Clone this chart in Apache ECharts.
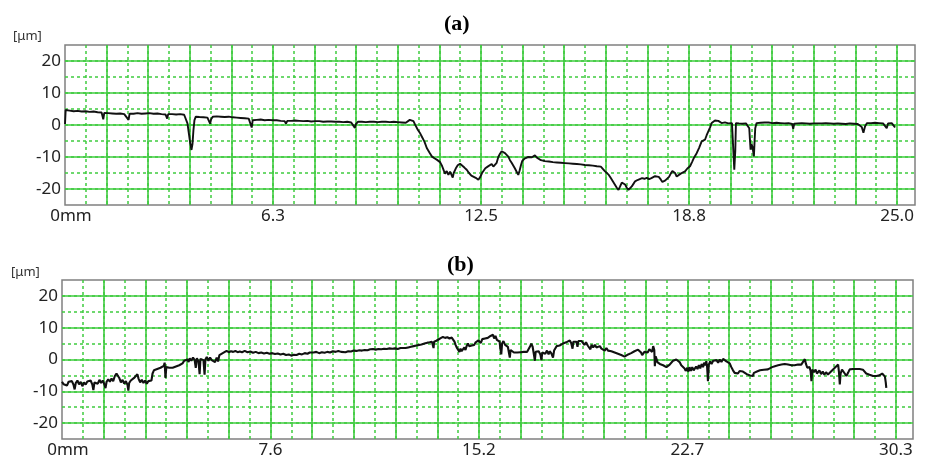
<!DOCTYPE html>
<html>
<head>
<meta charset="utf-8">
<script src="https://cdn.jsdelivr.net/npm/echarts@6/dist/echarts.min.js"></script>
<style>
  html, body { margin: 0; padding: 0; background: #fff; }
  #chart { width: 927px; height: 459px; }
</style>
</head>
<body>
<div id="chart"></div>
<script>
// profile (a): [position mm, height µm]
const profileA = [
  [0,0.3],[0.02,4.7],[0.08,4.1],[0.14,4.5],[0.2,3.9],[0.26,4.3],[0.32,4.0],[0.38,4.4],[0.44,3.8],[0.5,4.2],
  [0.56,3.9],[0.62,4.3],[0.68,3.9],[0.74,4.1],[0.8,3.7],[0.86,4.2],[0.92,3.9],[0.98,4.0],[1.04,3.6],[1.1,3.9],
  [1.15,1.8],[1.18,3.8],[1.24,4.1],[1.3,3.7],[1.36,4.0],[1.42,3.6],[1.48,3.9],[1.54,3.5],[1.6,3.9],[1.66,3.6],
  [1.72,3.8],[1.78,3.4],[1.84,3.7],[1.91,1.6],[1.94,3.5],[2.0,3.8],[2.06,3.5],[2.12,4.0],[2.18,3.7],[2.24,3.9],
  [2.3,3.5],[2.36,3.9],[2.42,3.6],[2.48,4.0],[2.54,3.7],[2.6,3.9],[2.66,3.5],[2.72,3.8],[2.78,3.6],[2.84,3.9],
  [2.9,3.4],[2.96,3.7],[3.02,3.3],[3.07,2.0],[3.1,3.4],[3.16,3.7],[3.22,3.4],[3.28,3.6],[3.34,3.3],[3.4,3.6],
  [3.46,3.4],[3.52,3.5],[3.58,3.2],[3.63,2.6],[3.68,0.5],[3.72,-2.5],[3.76,-5.5],[3.8,-7.8],[3.83,-6.0],[3.86,-1.5],
  [3.89,1.5],[3.93,2.6],[3.98,2.9],[4.04,2.5],[4.1,2.8],[4.16,2.4],[4.22,2.7],[4.28,2.3],[4.33,2.5],[4.36,0.4],
  [4.39,1.8],[4.44,2.6],[4.5,2.3],[4.56,2.7],[4.62,2.4],[4.68,2.6],[4.74,2.2],[4.8,2.5],[4.86,2.3],[4.92,2.6],
  [4.98,2.1],[5.04,2.4],[5.1,2.0],[5.16,2.3],[5.22,1.9],[5.28,2.2],[5.34,1.8],[5.4,2.1],[5.46,1.7],[5.52,2.0],
  [5.58,1.6],[5.61,-0.8],[5.64,1.5],[5.7,1.9],[5.76,1.6],[5.82,2.0],[5.88,1.7],[5.94,1.9],[6.0,1.5],[6.06,1.8],
  [6.12,1.6],[6.18,1.9],[6.24,1.5],[6.3,1.8],[6.36,1.5],[6.42,1.7],[6.48,1.3],[6.54,1.6],[6.6,1.2],[6.64,0.4],
  [6.68,1.3],[6.74,1.6],[6.8,1.3],[6.86,1.7],[6.92,1.4],[6.98,1.6],[7.04,1.3],[7.1,1.5],[7.16,1.2],[7.22,1.6],
  [7.28,1.3],[7.34,1.5],[7.4,1.1],[7.46,1.4],[7.52,1.2],[7.58,1.5],[7.64,1.2],[7.7,1.4],[7.76,1.0],[7.82,1.3],
  [7.88,1.1],[7.94,1.4],[8.0,1.1],[8.06,1.3],[8.12,1.0],[8.18,1.3],[8.24,1.0],[8.3,1.2],[8.36,0.9],[8.42,1.2],
  [8.48,1.0],[8.54,1.2],[8.6,0.8],[8.66,0.5],[8.71,-0.9],[8.74,0.3],[8.8,1.0],[8.86,1.3],[8.92,1.0],[8.98,1.2],
  [9.04,0.9],[9.1,1.2],[9.16,1.0],[9.22,1.3],[9.28,1.0],[9.34,1.2],[9.4,0.9],[9.46,1.2],[9.52,1.0],[9.58,1.3],
  [9.64,1.0],[9.7,1.2],[9.76,0.9],[9.82,1.2],[9.88,1.0],[9.94,1.3],[10.0,0.9],[10.06,1.1],[10.12,0.8],[10.18,1.2],
  [10.24,0.7],[10.3,1.3],[10.36,1.6],[10.42,2.0],[10.47,1.2],[10.52,0.1],[10.6,-1.5],[10.66,-2.4],[10.72,-3.6],[10.8,-5.2],
  [10.87,-7.2],[10.95,-8.6],[11.02,-9.8],[11.1,-10.4],[11.18,-10.9],[11.27,-11.6],[11.33,-12.8],[11.38,-14.2],[11.42,-15.2],[11.47,-14.4],
  [11.52,-15.6],[11.57,-14.6],[11.62,-14.8],[11.65,-16.4],[11.68,-15.0],[11.74,-13.6],[11.8,-12.6],[11.87,-12.1],[11.93,-12.6],[12.0,-13.3],
  [12.07,-14.0],[12.14,-15.0],[12.21,-15.8],[12.27,-16.3],[12.34,-16.5],[12.42,-17.1],[12.48,-16.2],[12.53,-15.0],[12.57,-14.4],[12.63,-13.5],
  [12.7,-13.0],[12.76,-12.6],[12.82,-12.2],[12.87,-13.0],[12.92,-13.4],[12.97,-11.8],[13.02,-10.0],[13.07,-9.0],[13.12,-8.2],[13.17,-8.6],
  [13.22,-8.8],[13.27,-9.4],[13.32,-9.9],[13.37,-11.0],[13.42,-11.8],[13.47,-12.4],[13.52,-13.6],[13.57,-14.6],[13.62,-15.6],[13.66,-14.2],
  [13.7,-12.6],[13.74,-11.2],[13.77,-10.8],[13.82,-10.4],[13.87,-10.4],[13.92,-10.0],[13.98,-9.6],[14.03,-10.1],[14.08,-9.8],[14.12,-9.5],
  [14.18,-10.2],[14.24,-10.6],[14.3,-11.0],[14.36,-10.8],[14.42,-11.3],[14.48,-11.0],[14.54,-11.4],[14.6,-11.2],[14.66,-11.6],[14.72,-11.3],
  [14.78,-11.7],[14.84,-11.4],[14.9,-11.8],[14.96,-11.5],[15.02,-11.9],[15.08,-11.6],[15.14,-12.0],[15.2,-11.7],[15.26,-12.1],[15.32,-11.8],
  [15.38,-12.2],[15.44,-11.9],[15.5,-12.3],[15.56,-12.0],[15.62,-12.5],[15.68,-12.2],[15.74,-12.6],[15.8,-12.3],[15.86,-12.7],[15.92,-12.5],
  [15.98,-12.9],[16.04,-12.6],[16.1,-13.0],[16.16,-13.6],[16.22,-14.4],[16.28,-15.0],[16.34,-15.6],[16.4,-16.6],[16.46,-17.6],[16.52,-18.6],
  [16.58,-19.6],[16.63,-20.3],[16.68,-19.2],[16.73,-18.0],[16.78,-17.6],[16.83,-18.6],[16.88,-19.6],[16.93,-20.3],[16.98,-20.5],[17.03,-19.2],
  [17.08,-18.4],[17.13,-17.6],[17.2,-17.2],[17.27,-16.9],[17.34,-16.6],[17.41,-16.8],[17.48,-16.5],[17.55,-16.9],[17.62,-16.6],[17.68,-16.9],
  [17.73,-16.0],[17.78,-15.5],[17.84,-16.2],[17.9,-17.0],[17.95,-17.8],[17.98,-18.1],[18.03,-17.4],[18.09,-16.8],[18.15,-16.2],[18.2,-15.2],
  [18.25,-14.4],[18.28,-14.0],[18.33,-15.0],[18.38,-16.1],[18.44,-15.6],[18.5,-15.2],[18.56,-14.8],[18.63,-14.5],[18.7,-13.6],[18.78,-12.9],
  [18.84,-11.6],[18.9,-10.2],[18.98,-8.8],[19.05,-7.2],[19.13,-5.1],[19.18,-4.8],[19.23,-4.6],[19.28,-3.2],[19.33,-2.0],[19.38,-0.8],
  [19.43,0.6],[19.48,1.2],[19.53,1.4],[19.58,1.0],[19.63,1.3],[19.68,1.1],[19.73,0.6],[19.78,1.2],[19.83,0.8],[19.88,1.1],
  [19.93,0.5],[19.98,0.9],[20.04,0.6],[20.09,0.9],[20.11,-14.0],[20.14,-8.0],[20.16,0.6],[20.2,1.0],[20.25,0.5],[20.3,0.9],
  [20.35,0.4],[20.4,0.8],[20.46,0.5],[20.52,0.9],[20.56,-1.0],[20.58,-4.5],[20.6,-7.7],[20.63,-6.0],[20.66,-7.0],[20.68,-8.5],
  [20.7,-9.8],[20.72,-5.0],[20.74,-1.0],[20.78,0.6],[20.84,1.0],[20.9,0.7],[20.96,1.1],[21.02,0.8],[21.08,1.2],[21.14,0.8],
  [21.2,1.0],[21.26,0.6],[21.32,1.0],[21.38,0.7],[21.44,1.1],[21.5,0.6],[21.56,0.9],[21.62,0.5],[21.68,0.9],[21.74,0.6],
  [21.8,0.9],[21.85,0.3],[21.88,-1.2],[21.91,0.4],[21.96,0.8],[22.02,0.5],[22.08,0.9],[22.14,0.6],[22.2,0.9],[22.26,0.5],
  [22.32,0.8],[22.38,0.4],[22.44,0.8],[22.5,0.5],[22.56,0.7],[22.62,0.5],[22.68,0.7],[22.74,0.5],[22.8,0.7],[22.86,0.6],
  [22.92,0.7],[22.98,0.5],[23.04,0.7],[23.1,0.4],[23.16,0.8],[23.22,0.5],[23.28,0.9],[23.34,0.4],[23.4,0.8],[23.46,0.3],
  [23.52,0.8],[23.58,0.5],[23.64,0.9],[23.7,0.4],[23.76,0.8],[23.82,0.3],[23.88,0.6],[23.94,-0.6],[23.99,-2.4],[24.04,-0.4],
  [24.1,0.6],[24.16,1.0],[24.22,0.6],[24.28,1.0],[24.34,0.7],[24.4,1.0],[24.46,0.6],[24.52,0.9],[24.58,0.5],[24.64,0.8],
  [24.69,-1.0],[24.73,0.5],[24.78,0.2],[24.84,0.6],[24.9,-0.2],[24.94,-0.8]
];

// profile (b): [position mm, height µm]
const profileB = [
  [0,-7.0],[0.06,-7.8],[0.12,-7.2],[0.18,-8.2],[0.24,-7.0],[0.3,-7.6],[0.36,-6.8],[0.42,-8.0],[0.46,-9.4],[0.5,-7.4],
  [0.56,-6.6],[0.62,-7.8],[0.68,-7.0],[0.74,-8.4],[0.8,-7.2],[0.86,-7.9],[0.92,-6.9],[0.98,-7.5],[1.04,-6.6],[1.1,-7.8],
  [1.14,-9.6],[1.18,-7.2],[1.24,-6.8],[1.3,-7.6],[1.36,-6.4],[1.42,-7.4],[1.48,-6.6],[1.54,-7.8],[1.58,-9.0],[1.62,-7.0],
  [1.68,-6.2],[1.74,-7.0],[1.8,-6.0],[1.86,-6.8],[1.92,-5.2],[1.98,-4.4],[2.03,-4.0],[2.08,-5.8],[2.14,-7.2],[2.2,-6.4],
  [2.26,-7.6],[2.32,-6.8],[2.38,-8.0],[2.41,-9.8],[2.44,-7.4],[2.5,-6.6],[2.56,-7.0],[2.62,-5.8],[2.68,-5.2],[2.74,-4.6],
  [2.78,-6.0],[2.84,-7.2],[2.9,-6.4],[2.96,-7.4],[3.02,-6.6],[3.08,-7.6],[3.14,-6.8],[3.2,-7.2],[3.25,-6.6],[3.29,-4.4],
  [3.34,-3.4],[3.4,-3.8],[3.46,-3.0],[3.52,-3.6],[3.58,-2.6],[3.64,-3.2],[3.7,-2.0],[3.73,-1.0],[3.76,-5.8],[3.79,-2.4],
  [3.84,-3.0],[3.9,-2.6],[3.96,-3.2],[4.02,-2.6],[4.08,-3.0],[4.14,-2.2],[4.2,-2.8],[4.26,-1.8],[4.32,-2.4],[4.38,-1.2],
  [4.44,-0.4],[4.5,-1.0],[4.56,0.0],[4.6,-0.8],[4.64,0.4],[4.7,-0.4],[4.76,0.6],[4.82,-0.2],[4.86,-2.6],[4.9,0.4],
  [4.96,-0.6],[5.0,-4.6],[5.03,0.2],[5.08,0.8],[5.14,-0.2],[5.18,-4.8],[5.21,0.0],[5.26,0.8],[5.32,-0.4],[5.38,0.6],
  [5.44,-0.2],[5.5,0.4],[5.56,-0.8],[5.62,0.6],[5.67,-0.6],[5.72,1.4],[5.78,1.0],[5.84,2.0],[5.91,2.4],[5.98,2.7],
  [6.06,2.3],[6.14,2.6],[6.22,2.4],[6.3,2.7],[6.38,2.3],[6.46,2.5],[6.54,2.3],[6.64,2.7],[6.74,2.3],[6.84,2.5],
  [6.94,2.1],[7.04,2.4],[7.14,2.0],[7.24,2.2],[7.34,1.9],[7.44,2.1],[7.54,1.8],[7.64,2.0],[7.74,1.7],[7.84,1.9],
  [7.94,1.6],[8.04,1.8],[8.14,1.4],[8.24,1.6],[8.33,1.2],[8.42,1.5],[8.52,1.4],[8.62,1.8],[8.72,1.6],[8.82,2.0],
  [8.92,1.8],[9.0,2.2],[9.06,2.5],[9.14,2.2],[9.24,2.4],[9.34,2.0],[9.44,2.3],[9.54,2.1],[9.64,2.4],[9.74,2.2],
  [9.84,2.6],[9.94,2.4],[10.04,2.7],[10.14,2.4],[10.21,2.5],[10.3,2.3],[10.4,2.6],[10.5,2.5],[10.6,2.8],[10.7,2.7],
  [10.8,2.9],[10.9,2.8],[11.0,3.0],[11.1,2.9],[11.2,3.2],[11.3,3.3],[11.4,3.1],[11.5,3.3],[11.6,3.2],[11.7,3.4],
  [11.8,3.3],[11.9,3.5],[12.0,3.4],[12.1,3.5],[12.2,3.3],[12.3,3.6],[12.39,3.6],[12.44,3.0],[12.48,3.6],[12.58,3.8],
  [12.68,4.0],[12.78,4.2],[12.88,4.4],[12.98,4.6],[13.06,4.7],[13.12,5.0],[13.2,5.1],[13.28,5.3],[13.36,5.4],[13.44,5.6],
  [13.48,5.7],[13.5,3.6],[13.52,5.6],[13.6,5.9],[13.68,6.3],[13.76,6.7],[13.84,7.1],[13.92,6.8],[14.0,7.0],[14.08,6.6],
  [14.16,6.9],[14.21,6.5],[14.26,5.6],[14.3,4.6],[14.34,3.8],[14.39,3.1],[14.44,2.4],[14.48,3.4],[14.52,2.6],[14.57,2.8],
  [14.62,3.8],[14.66,3.0],[14.7,4.2],[14.75,5.0],[14.8,4.2],[14.85,3.6],[14.89,4.4],[14.93,3.8],[14.98,4.6],[15.03,5.4],
  [15.08,4.8],[15.13,6.0],[15.18,6.2],[15.22,5.2],[15.27,6.4],[15.32,5.8],[15.37,6.6],[15.42,6.0],[15.47,6.8],[15.52,6.2],
  [15.57,7.4],[15.62,6.8],[15.66,7.8],[15.7,6.6],[15.75,7.4],[15.8,6.2],[15.84,6.6],[15.9,5.6],[15.93,3.2],[15.96,1.6],
  [15.99,5.0],[16.04,5.8],[16.1,4.6],[16.15,5.2],[16.2,4.0],[16.24,2.0],[16.27,0.6],[16.3,3.0],[16.36,2.8],[16.42,2.2],
  [16.48,2.8],[16.54,2.2],[16.6,2.7],[16.66,2.3],[16.72,2.8],[16.78,2.4],[16.84,2.6],[16.9,2.4],[16.96,3.4],[17.01,4.2],
  [17.05,5.0],[17.1,4.0],[17.14,3.4],[17.16,0.8],[17.18,-0.4],[17.21,2.4],[17.26,1.8],[17.32,2.6],[17.38,1.6],[17.42,-0.2],
  [17.45,2.2],[17.5,2.6],[17.56,1.8],[17.62,2.8],[17.68,1.6],[17.72,2.6],[17.78,1.9],[17.84,0.6],[17.88,2.8],[17.93,3.4],
  [17.97,4.2],[18.02,3.6],[18.08,4.4],[18.14,4.0],[18.2,5.0],[18.26,4.4],[18.32,5.4],[18.38,4.8],[18.45,6.0],[18.5,5.2],
  [18.55,3.4],[18.58,5.6],[18.63,6.2],[18.69,5.6],[18.73,4.0],[18.76,5.8],[18.82,5.2],[18.88,5.8],[18.93,5.4],[18.98,4.6],
  [19.04,5.4],[19.1,4.4],[19.17,4.8],[19.2,3.2],[19.24,4.6],[19.3,3.8],[19.36,4.6],[19.42,3.8],[19.48,4.4],[19.54,4.2],
  [19.6,3.4],[19.66,4.0],[19.72,2.8],[19.78,3.6],[19.84,2.8],[19.9,3.4],[19.96,2.6],[20.02,3.0],[20.08,2.2],[20.14,2.6],
  [20.2,1.8],[20.26,2.2],[20.32,1.4],[20.38,1.6],[20.44,0.9],[20.5,0.8],[20.57,1.6],[20.62,1.2],[20.68,2.0],[20.74,1.8],
  [20.8,2.6],[20.86,2.4],[20.93,3.1],[20.98,2.6],[21.04,2.2],[21.08,1.4],[21.11,2.0],[21.16,2.4],[21.22,2.8],[21.28,2.2],
  [21.34,3.2],[21.38,2.6],[21.41,3.6],[21.44,2.4],[21.48,4.2],[21.52,3.0],[21.54,-2.1],[21.57,1.0],[21.6,0.2],[21.63,-0.8],
  [21.66,-0.6],[21.72,-1.4],[21.78,-1.0],[21.84,-1.8],[21.9,-1.6],[21.96,-2.4],[22.02,-2.6],[22.08,-1.6],[22.14,-1.2],[22.2,-0.4],
  [22.26,-0.6],[22.32,0.0],[22.38,0.1],[22.44,-0.8],[22.5,-1.8],[22.57,-1.4],[22.62,-2.8],[22.66,-3.6],[22.69,-4.2],[22.72,-2.6],
  [22.76,-3.8],[22.8,-2.4],[22.85,-3.6],[22.9,-2.4],[22.95,-3.4],[22.99,-3.1],[23.04,-2.2],[23.09,-3.0],[23.14,-1.8],[23.19,-2.8],
  [23.24,-1.4],[23.29,-2.4],[23.34,-1.0],[23.38,-1.8],[23.41,-0.5],[23.44,-2.4],[23.47,-6.8],[23.5,-1.6],[23.55,-0.6],[23.6,-1.4],
  [23.66,-0.4],[23.72,-1.0],[23.78,-0.2],[23.84,-1.0],[23.9,0.0],[23.96,-0.8],[24.02,0.2],[24.08,0.1],[24.14,-0.6],[24.2,-0.5],
  [24.26,-1.2],[24.32,-2.4],[24.38,-3.4],[24.44,-4.2],[24.5,-3.8],[24.56,-4.4],[24.62,-3.6],[24.68,-4.2],[24.74,-3.8],[24.81,-4.0],
  [24.88,-4.6],[24.94,-4.2],[25.0,-5.0],[25.05,-4.8],[25.1,-5.2],[25.14,-4.2],[25.2,-4.6],[25.25,-3.8],[25.29,-3.6],[25.36,-3.4],
  [25.43,-3.8],[25.5,-3.2],[25.57,-3.6],[25.65,-3.1],[25.72,-2.8],[25.8,-2.4],[25.86,-2.8],[25.9,-2.1],[25.96,-2.4],[26.02,-1.8],
  [26.08,-2.2],[26.14,-1.6],[26.2,-2.0],[26.26,-1.4],[26.32,-1.8],[26.38,-1.6],[26.44,-1.2],[26.5,-1.8],[26.56,-1.2],[26.62,-1.8],
  [26.68,-1.4],[26.74,-1.6],[26.8,-1.2],[26.86,-1.6],[26.92,-1.0],[26.99,0.1],[27.03,-1.4],[27.08,-2.6],[27.11,-3.1],[27.16,-2.4],
  [27.2,-3.6],[27.23,-6.8],[27.26,-3.2],[27.32,-4.0],[27.38,-3.2],[27.43,-4.4],[27.47,-4.2],[27.52,-3.4],[27.58,-4.6],[27.64,-3.8],
  [27.7,-4.8],[27.76,-4.0],[27.83,-4.7],[27.9,-4.2],[27.96,-3.6],[28.02,-3.0],[28.08,-2.6],[28.14,-2.0],[28.2,-1.6],[28.23,-4.0],
  [28.26,-7.8],[28.29,-4.4],[28.34,-3.2],[28.38,-3.1],[28.44,-4.4],[28.5,-5.2],[28.56,-4.2],[28.62,-3.1],[28.68,-3.4],[28.74,-3.0],
  [28.8,-3.4],[28.86,-3.0],[28.92,-3.6],[28.98,-3.0],[29.04,-2.6],[29.1,-3.2],[29.16,-3.8],[29.22,-4.4],[29.28,-4.6],[29.34,-4.8],
  [29.41,-5.0],[29.47,-5.2],[29.53,-5.4],[29.59,-5.2],[29.65,-5.7],[29.7,-5.0],[29.75,-5.4],[29.8,-4.4],[29.83,-4.2],[29.87,-4.8],
  [29.9,-5.4],[29.93,-7.2],[29.95,-8.9]
];

const xTickLabelsA = ['0mm', '6.3', '12.5', '18.8', '25.0'];
const xTickLabelsB = ['0mm', '7.6', '15.2', '22.7', '30.3'];
const yTickValues = [-20, -10, 0, 10, 20];
const panelTitles = ['(a)', '(b)'];
const yUnit = '[μm]';

const GREEN = '#3fcb3f';
const NONE = 'rgba(0,0,0,0)';
const FONT = 'Noto Sans';

// grid steps: 20 major divisions up to the last label
const stepA = 1.25, stepB = 1.515;

function xLabelFormatter(step, labels) {
  return function (v) {
    const k = v / step;
    const r = Math.round(k);
    if (Math.abs(k - r) > 1e-6 || r % 5 !== 0) return '';
    const t = labels[r / 5];
    return r === 0 ? '{first|' + t + '}' : t;
  };
}

function xAxes(gridIndex, max, step, labels) {
  const common = {
    type: 'value', gridIndex: gridIndex, position: 'bottom', min: 0, max: max,
    axisLine: { show: false }, axisTick: { show: false }
  };
  return [
    Object.assign({}, common, {
      interval: step / 2,
      axisLabel: { show: false },
      splitLine: { show: true, showMinLine: false, showMaxLine: false,
        lineStyle: { color: GREEN, width: 1.5, type: [3, 3] } }
    }),
    Object.assign({}, common, {
      interval: step,
      axisLabel: {
        margin: 3, color: '#222', fontFamily: FONT, fontSize: 17,
        formatter: xLabelFormatter(step, labels),
        rich: { first: { padding: [0, 0, 0, 12], color: '#222', fontFamily: FONT, fontSize: 17 } }
      },
      splitLine: { show: true, showMinLine: false, showMaxLine: false,
        lineStyle: { color: GREEN, width: 1.6 } }
    })
  ];
}

// ticks run from min (-25) every 5: dashed axis draws them all,
// the solid axis shows only every other one (-20, -10, 0, 10, 20)
function yAxes(gridIndex) {
  const common = {
    type: 'value', gridIndex: gridIndex, position: 'left', min: -25, max: 25, interval: 5,
    axisLine: { show: false }, axisTick: { show: false }
  };
  return [
    Object.assign({}, common, {
      axisLabel: { show: false },
      splitLine: { show: true, showMinLine: false, showMaxLine: false,
        lineStyle: { color: GREEN, width: 1.5, type: [3, 3] } }
    }),
    Object.assign({}, common, {
      axisLabel: {
        margin: 4, color: '#222', fontFamily: FONT, fontSize: 17,
        formatter: function (v) { return yTickValues.indexOf(v) >= 0 ? String(v) : ''; }
      },
      splitLine: { show: true,
        lineStyle: { color: [NONE, GREEN], width: 1.6 } }
    })
  ];
}

const chart = echarts.init(document.getElementById('chart'), null, { renderer: 'canvas' });

chart.setOption({
  animation: false,
  backgroundColor: '#fff',
  title: [
    { text: panelTitles[0], left: 439, top: 8,
      textStyle: { fontFamily: 'Liberation Serif', fontWeight: 'bold', fontSize: 22, color: '#000' } },
    { text: panelTitles[1], left: 442, top: 249,
      textStyle: { fontFamily: 'Liberation Serif', fontWeight: 'bold', fontSize: 22, color: '#000' } }
  ],
  graphic: [
    { type: 'text', left: 13, top: 30, style: { text: yUnit, font: '13px "Noto Sans"', fill: '#333' } },
    { type: 'text', left: 11, top: 266, style: { text: yUnit, font: '13px "Noto Sans"', fill: '#333' } }
  ],
  grid: [
    { left: 65, top: 45, width: 850, height: 160, show: true,
      borderColor: '#808080', borderWidth: 1.5, backgroundColor: 'transparent' },
    { left: 62, top: 280, width: 851, height: 160, show: true,
      borderColor: '#808080', borderWidth: 1.5, backgroundColor: 'transparent' }
  ],
  xAxis: [].concat(
    xAxes(0, 25.54, stepA, xTickLabelsA),
    xAxes(1, 30.92, stepB, xTickLabelsB)
  ),
  yAxis: [].concat(yAxes(0), yAxes(1)),
  series: [
    { type: 'line', xAxisIndex: 1, yAxisIndex: 1, data: profileA,
      showSymbol: false, lineStyle: { color: '#111', width: 1.9 }, z: 5 },
    { type: 'line', xAxisIndex: 3, yAxisIndex: 3, data: profileB,
      showSymbol: false, lineStyle: { color: '#111', width: 2.1 }, z: 5 }
  ]
});
</script>
</body>
</html>
